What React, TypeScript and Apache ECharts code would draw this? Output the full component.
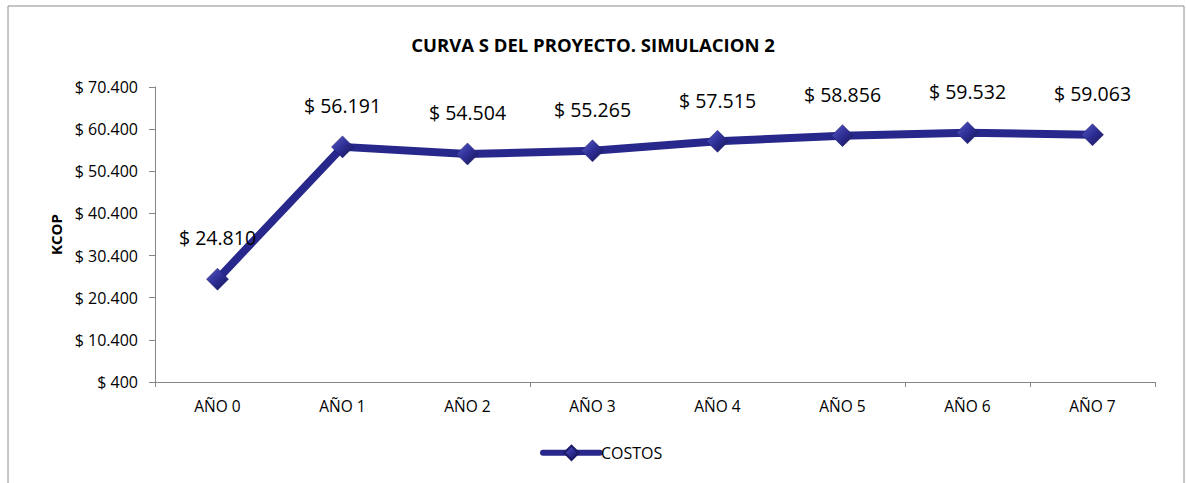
import React, { useEffect, useRef } from "react";
import * as echarts from "echarts";

const categories = ["AÑO 0", "AÑO 1", "AÑO 2", "AÑO 3", "AÑO 4", "AÑO 5", "AÑO 6", "AÑO 7"];
const costos = [24810, 56191, 54504, 55265, 57515, 58856, 59532, 59063];
const yMin = 400;
const yMax = 70400;
const yInterval = 10000;

const FONT = "'Open Sans', 'Noto Sans', sans-serif";
const fmt = (v: number) => "$ " + Math.round(v).toString().replace(/\B(?=(\d{3})+(?!\d))/g, ".");

export default function App() {
  const ref = useRef<HTMLDivElement>(null);
  useEffect(() => {
    document.body.style.margin = "0";
    const chart = echarts.init(ref.current!, null, { renderer: "svg" });
    const markerColor = new echarts.graphic.LinearGradient(0, 0, 1, 1, [
      { offset: 0, color: "#5b5bc8" },
      { offset: 0.5, color: "#2e2e96" },
      { offset: 1, color: "#14144f" },
    ]);
    chart.setOption({
      animation: false,
      textStyle: { fontFamily: FONT },
      title: {
        text: "CURVA S DEL PROYECTO. SIMULACION 2",
        left: "center",
        top: 30,
        textStyle: { fontFamily: FONT, fontSize: 18.5, fontWeight: "bold", color: "#000" },
      },
      graphic: [
        {
          type: "rect",
          shape: { x: 8, y: 6, width: 1176, height: 500 },
          style: { fill: "none", stroke: "#8c8c8c", lineWidth: 1 },
          silent: true,
          z: -1,
        },
      ],
      legend: {
        bottom: 22,
        left: 540,
        padding: 0,
        itemWidth: 57,
        itemHeight: 18,
        itemGap: 2,
        lineStyle: { width: 6, cap: "round" },
        textStyle: { fontFamily: FONT, fontSize: 16, color: "#000", padding: [0, 0, 0, -4] },
        data: [{ name: "COSTOS" }],
      },
      grid: { left: 155, right: 31, top: 87, bottom: 101, containLabel: false },
      xAxis: {
        type: "category",
        data: categories,
        boundaryGap: true,
        axisLine: { lineStyle: { color: "#868686", width: 1 } },
        axisTick: { show: true, interval: 2, length: 5, lineStyle: { color: "#868686" } },
        axisLabel: { interval: 0, margin: 16, fontFamily: FONT, fontSize: 15.5, color: "#000" },
      },
      yAxis: {
        type: "value",
        min: yMin,
        max: yMax,
        interval: yInterval,
        name: "KCOP",
        nameLocation: "middle",
        nameGap: 92,
        nameTextStyle: { fontFamily: FONT, fontSize: 15, fontWeight: "bold", color: "#000" },
        axisLine: { show: true, lineStyle: { color: "#868686", width: 1 } },
        axisTick: { show: true, length: 6, lineStyle: { color: "#868686" } },
        splitLine: { show: false },
        axisLabel: { margin: 17, fontFamily: FONT, fontSize: 16, color: "#000", formatter: (v: number) => fmt(v) },
      },
      series: [
        {
          name: "COSTOS",
          type: "line",
          data: costos,
          symbol: "diamond",
          symbolSize: 22,
          showAllSymbol: true,
          lineStyle: { color: "#28288c", width: 8 },
          itemStyle: { color: markerColor, borderColor: "#1a1a66", borderWidth: 0.5 },
          label: {
            show: true,
            position: "top",
            distance: 20,
            fontFamily: FONT,
            fontSize: 19.5,
            color: "#000",
            formatter: (p: any) => fmt(p.value),
          },
        },
      ],
    });
    return () => chart.dispose();
  }, []);
  return <div ref={ref} style={{ position: "absolute", left: 0, top: 0, width: 1186, height: 483 }} />;
}
